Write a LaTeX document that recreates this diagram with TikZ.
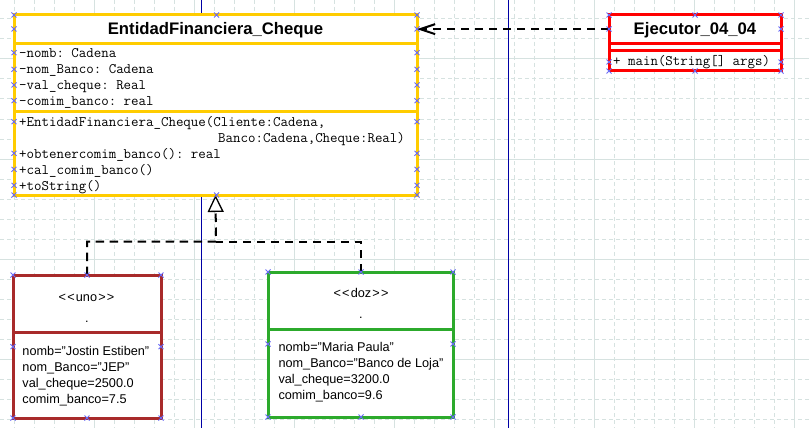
\documentclass[tikz,border=0pt]{standalone}
\usepackage{fontspec}
\setmainfont{Liberation Sans}
\usetikzlibrary{arrows.meta}
\definecolor{gridc}{RGB}{214,226,224}
\definecolor{yel}{RGB}{255,204,0}
\definecolor{brn}{RGB}{168,42,42}
\definecolor{grn}{RGB}{44,170,44}
\definecolor{redc}{RGB}{255,0,0}
\definecolor{navy}{RGB}{0,0,165}
\definecolor{hdl}{RGB}{105,105,245}
\newcommand{\lt}{{<}\kern1.2pt}
\newcommand{\gtt}{\kern1.2pt{>}}
\begin{document}
\frenchspacing
\begin{tikzpicture}[x=1pt,y=-1pt,
  gridminor/.style={gridc, line width=1pt, dash pattern=on 4pt off 3pt},
  gridmajor/.style={gridc, line width=1pt},
  navyline/.style={navy, line width=1pt},
  umlbox/.style={line width=3pt, fill=white, inner sep=0pt, outer sep=0pt},
  part/.style={inner sep=0pt, outer sep=0pt},
  sepline/.style={line width=3pt},
  titlef/.style={font=\bfseries\fontsize{16.7}{20}\selectfont, anchor=base, inner sep=0pt},
  mono/.style={font=\ttfamily\fontsize{14.5}{16}\selectfont, anchor=base west, inner sep=0pt},
  sanst/.style={font=\fontsize{12.7}{15}\selectfont, anchor=base west, inner sep=0pt},
  stereo/.style={font=\fontsize{12.7}{15}\selectfont, anchor=base, inner sep=0pt},
  depline/.style={black, line width=2pt, dash pattern=on 8.5pt off 5.5pt},
  handle/.style={hdl, line width=0.8pt}
]
\useasboundingbox (0,0) rectangle (809,428);
\fill[white] (0,0) rectangle (809,428);
% grid
\foreach \x in {14,34,...,794} \draw[gridminor] (\x,0) -- (\x,428);
\foreach \y in {19,39,...,419} \draw[gridminor] (0,\y) -- (809,\y);
\foreach \x in {94,194,...,794} \draw[gridmajor] (\x,0) -- (\x,428);
\foreach \y in {59,159,259,359} \draw[gridmajor] (0,\y) -- (809,\y);
\draw[navyline] (201,0) -- (201,428);
\draw[navyline] (508,0) -- (508,428);

% EntidadFinanciera_Cheque
\node[umlbox, draw=yel, minimum width=403pt, minimum height=180pt, anchor=north west] (ent) at (14,15) {};
\node[part, minimum width=403pt, minimum height=28.3pt, anchor=north west] (enttitle) at (14,15) {};
\draw[sepline, yel] (14,43.3) -- (417,43.3) (14,111) -- (417,111);
\node[titlef] (entname) at (215.5,34.7) {EntidadFinanciera\_Cheque};
\node[mono] (ea1) at (19,57.5) {-nomb: Cadena};
\node[mono] (ea2) at (19,73.5) {-nom\_Banco: Cadena};
\node[mono] (ea3) at (19,89.5) {-val\_cheque: Real};
\node[mono] (ea4) at (19,105.5) {-comim\_banco: real};
\node[mono] (em1) at (19,126) {+EntidadFinanciera\_Cheque(Cliente:Cadena,};
\node[mono] (em1b) at (218,142) {Banco:Cadena,Cheque:Real)};
\node[mono] (em2) at (19,158) {+obtenercomim\_banco(): real};
\node[mono] (em3) at (19,174) {+cal\_comim\_banco()};
\node[mono] (em4) at (19,190) {+toString()};

% Ejecutor_04_04
\node[umlbox, draw=redc, minimum width=172pt, minimum height=56pt, anchor=north west] (ejec) at (609,15) {};
\node[part, minimum width=172pt, minimum height=28.3pt, anchor=north west] (ejtitle) at (609,15) {};
\draw[sepline, redc] (609,43.3) -- (781,43.3) (609,50.7) -- (781,50.7);
\node[titlef] (ejname) at (695,35) {Ejecutor\_04\_04};
\node[mono] (ejm) at (613,65.7) {+ main(String[] args)};

% uno
\node[umlbox, draw=brn, minimum width=148pt, minimum height=143pt, anchor=north west] (uno) at (13,275) {};
\draw[sepline, brn] (13,332) -- (161,332);
\node[stereo] (unost) at (86.5,301) {\lt\lt uno\gtt\gtt};
\node[stereo] (unodot) at (87,322) {.};
\node[sanst] (u1) at (22.3,355) {nomb="Jostin Estiben"};
\node[sanst] (u2) at (22.3,371) {nom\_Banco="JEP"};
\node[sanst] (u3) at (22.3,387) {val\_cheque=2500.0};
\node[sanst] (u4) at (22.3,403) {comim\_banco=7.5};

% doz
\node[umlbox, draw=grn, minimum width=185pt, minimum height=145pt, anchor=north west] (doz) at (268,272) {};
\draw[sepline, grn] (268,329.3) -- (453,329.3);
\node[stereo] (dozst) at (361,297.5) {\lt\lt doz\gtt\gtt};
\node[stereo] (dozdot) at (361,318.7) {.};
\node[sanst] (d1) at (278.3,351.7) {nomb="Maria Paula"};
\node[sanst] (d2) at (278.3,367.7) {nom\_Banco="Banco de Loja"};
\node[sanst] (d3) at (278.3,383.7) {val\_cheque=3200.0};
\node[sanst] (d4) at (278.3,399.7) {comim\_banco=9.6};

% connectors
\draw[depline, -{Straight Barb[length=15pt,width=10pt,line width=2pt]}] (ejtitle.west) -- (enttitle.east);
\coordinate (jn) at (216,241.5);
\draw[depline, -{Triangle[open,length=17pt,width=16pt,line width=1.3pt,fill=white]}] (uno.north) |- (jn) -- (ent.south);
\draw[depline] (doz.north) |- (jn);

% handles
\foreach \x/\y in {14/15,216.5/15,417/15,14/195,216.5/195,417/195,
  14/29,417/29,14/52.7,417/52.7,14/69.3,417/69.3,14/85,417/85,14/100.7,417/100.7,
  14/121.7,417/121.7,14/153.3,417/153.3,14/169.3,417/169.3,14/185.3,417/185.3,
  609/15,695/15,781/15,609/71,695/71,781/71,609/29,781/29,609/62,781/62,
  13/275,87/275,161/275,13/418,87/418,161/418,13/346.7,161/346.7,
  268/272,361/272,453/272,268/417,361/417,453/417,268/344,453/344}
  \draw[handle] (\x-2.5,\y-2.5) -- (\x+2.5,\y+2.5) (\x-2.5,\y+2.5) -- (\x+2.5,\y-2.5);
\end{tikzpicture}
\end{document}
